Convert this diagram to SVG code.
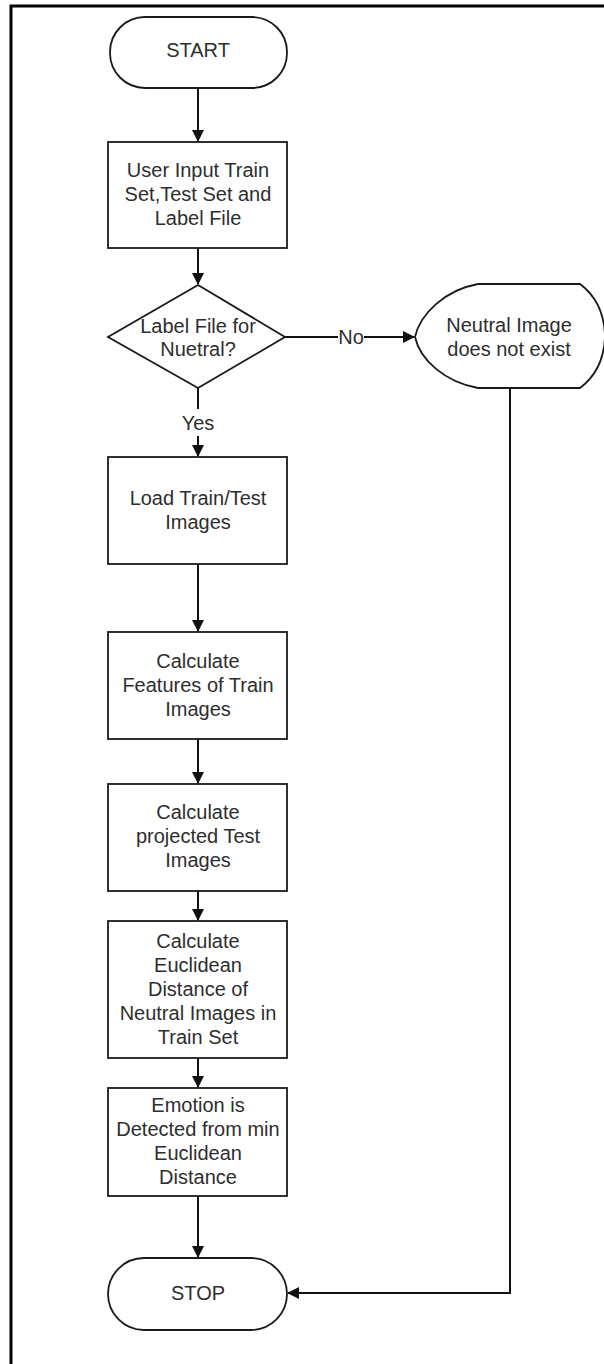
<svg xmlns="http://www.w3.org/2000/svg" width="604" height="1364" viewBox="0 0 604 1364">
<style>
.sh{fill:#fff;stroke:#1a1a1a;stroke-width:1.8}
.t{font-family:"Liberation Sans",Arial,sans-serif;font-size:20px;fill:#2e2e2e;text-anchor:middle}
.c{fill:none;stroke:#111;stroke-width:2}
</style>
<defs>
<marker id="ah" markerWidth="12" markerHeight="12" refX="11" refY="6" orient="auto" markerUnits="userSpaceOnUse">
<path d="M0,0 L12,6 L0,12 Z" fill="#111"/>
</marker>
</defs>
<rect x="0" y="0" width="604" height="1364" fill="#fff"/>
<rect x="11" y="6" width="620" height="1400" fill="none" stroke="#000" stroke-width="3"/>
<g id="connectors">
<line class="c" x1="198" y1="88" x2="198" y2="141" marker-end="url(#ah)"/>
<line class="c" x1="198" y1="248" x2="198" y2="284" marker-end="url(#ah)"/>
<line class="c" x1="285" y1="337" x2="338" y2="337"/>
<line class="c" x1="364" y1="337" x2="414" y2="337" marker-end="url(#ah)"/>
<line class="c" x1="198" y1="388" x2="198" y2="409"/>
<line class="c" x1="198" y1="436" x2="198" y2="456" marker-end="url(#ah)"/>
<line class="c" x1="198" y1="564" x2="198" y2="631" marker-end="url(#ah)"/>
<line class="c" x1="198" y1="739" x2="198" y2="783" marker-end="url(#ah)"/>
<line class="c" x1="198" y1="891" x2="198" y2="920" marker-end="url(#ah)"/>
<line class="c" x1="198" y1="1058" x2="198" y2="1087" marker-end="url(#ah)"/>
<line class="c" x1="198" y1="1196" x2="198" y2="1257" marker-end="url(#ah)"/>
<polyline class="c" points="510,388 510,1293 288,1293" marker-end="url(#ah)"/>
<text class="t" x="351" y="344">No</text>
<text class="t" x="198" y="430">Yes</text>
</g>
<g id="start">
<rect class="sh" x="110" y="17" width="177" height="71" rx="35" ry="35"/>
<text class="t" x="198" y="57">START</text>
</g>
<g id="input">
<rect class="sh" x="108" y="142" width="179" height="106"/>
<text class="t" x="198" y="177">User Input Train</text>
<text class="t" x="198" y="201">Set,Test Set and</text>
<text class="t" x="198" y="225">Label File</text>
</g>
<g id="decision">
<polygon class="sh" points="198,285 285,337 198,388 108,337"/>
<text class="t" x="198" y="333">Label File for</text>
<text class="t" x="198" y="356">Nuetral?</text>
</g>
<g id="noneutral">
<path class="sh" d="M478,284 L580,284 Q604,302 605,336 Q604,370 580,388 L478,388 C445,382 420,360 415,337 C420,314 445,290 478,284 Z"/>
<text class="t" x="509" y="332">Neutral Image</text>
<text class="t" x="509" y="356">does not exist</text>
</g>
<g id="load">
<rect class="sh" x="108" y="457" width="179" height="107"/>
<text class="t" x="198" y="505">Load Train/Test</text>
<text class="t" x="198" y="529">Images</text>
</g>
<g id="features">
<rect class="sh" x="108" y="632" width="179" height="107"/>
<text class="t" x="198" y="668">Calculate</text>
<text class="t" x="198" y="692">Features of Train</text>
<text class="t" x="198" y="716">Images</text>
</g>
<g id="projected">
<rect class="sh" x="108" y="784" width="179" height="107"/>
<text class="t" x="198" y="819">Calculate</text>
<text class="t" x="198" y="843">projected Test</text>
<text class="t" x="198" y="867">Images</text>
</g>
<g id="euclidean">
<rect class="sh" x="108" y="921" width="179" height="137"/>
<text class="t" x="198" y="948">Calculate</text>
<text class="t" x="198" y="972">Euclidean</text>
<text class="t" x="198" y="996">Distance of</text>
<text class="t" x="198" y="1020">Neutral Images in</text>
<text class="t" x="198" y="1044">Train Set</text>
</g>
<g id="emotion">
<rect class="sh" x="108" y="1088" width="179" height="108"/>
<text class="t" x="198" y="1112">Emotion is</text>
<text class="t" x="198" y="1136">Detected from min</text>
<text class="t" x="198" y="1160">Euclidean</text>
<text class="t" x="198" y="1184">Distance</text>
</g>
<g id="stop">
<rect class="sh" x="108" y="1258" width="179" height="72" rx="36" ry="36"/>
<text class="t" x="198" y="1300">STOP</text>
</g>
</svg>
